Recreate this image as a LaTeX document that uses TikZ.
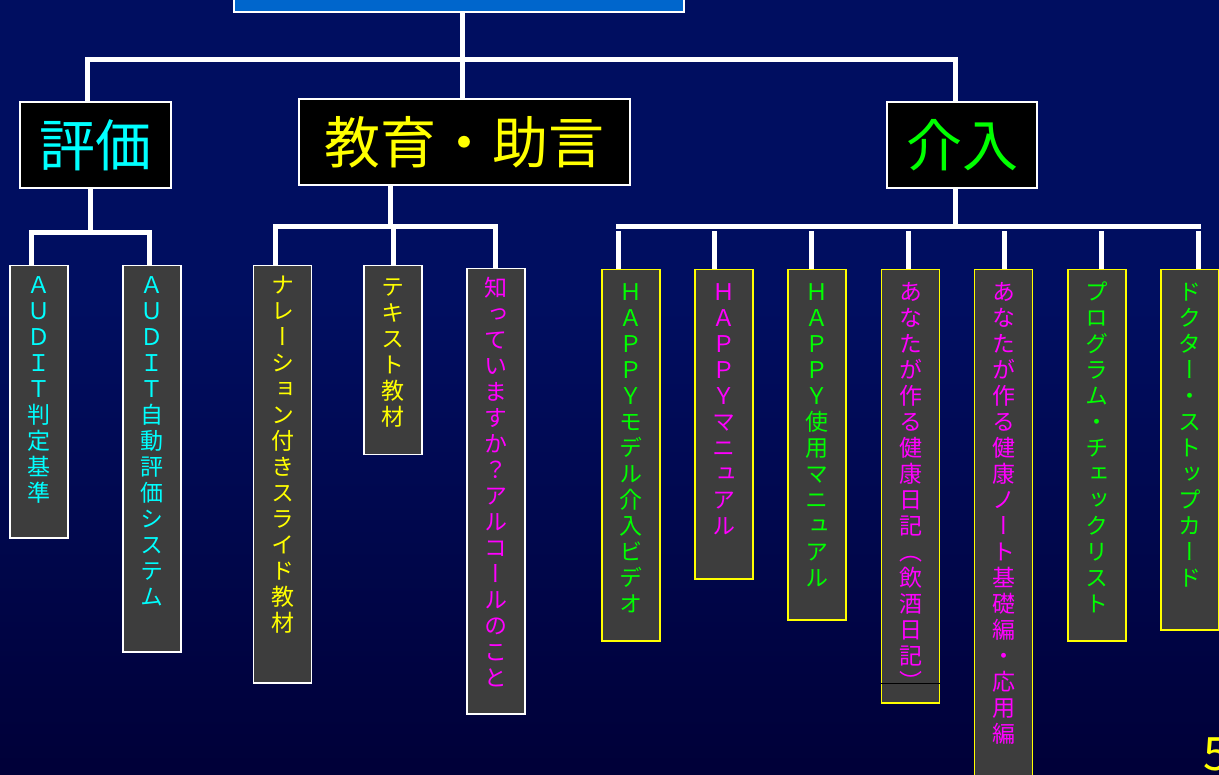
\documentclass[tikz,border=0pt]{standalone}
\usepackage{fontspec}
\newfontfamily\jp{Noto Sans CJK JP}
\newfontfamily\jpv[RawFeature=+vert]{Noto Sans CJK JP}
\definecolor{bgtop}{RGB}{0,14,96}
\definecolor{bgbot}{RGB}{0,0,56}
\definecolor{boxgray}{RGB}{61,61,61}
\definecolor{topblue}{RGB}{0,102,204}
\definecolor{lgreen}{RGB}{0,255,0}
\definecolor{lcyan}{RGB}{0,255,255}
\definecolor{lmagenta}{RGB}{255,0,255}
\definecolor{lyellow}{RGB}{255,255,0}
% one character per line, for the upright columns
\newcommand\tatechar[1]{\hbox to 24pt{\hss\vrule height 20pt depth 3pt width 0pt #1\hss}}
\def\tateloop#1{\ifx#1\relax\else\tatechar{#1}\expandafter\tateloop\fi}
\newcommand\tate[1]{\vbox{\jpv\fontsize{23}{26}\selectfont\baselineskip=26pt\lineskiplimit=-30pt\edef\tatetmp{#1}\expandafter\tateloop\tatetmp\relax}}
\begin{document}
\begin{tikzpicture}[x=1pt,y=-1pt,line join=miter,
  tree/.style={white,line width=5},
  tbox/.style={draw=white,fill=black,line width=1.5,minimum height=86,inner sep=0,font=\jp\fontsize{56}{60}\selectfont},
  wbox/.style={draw=white,fill=boxgray,line width=1.5,minimum width=58,inner sep=0},
  ybox/.style={draw=lyellow,fill=boxgray,line width=1.5,minimum width=58,inner sep=0},
  col/.style={anchor=north,inner sep=0}]
\useasboundingbox (0,0) rectangle (1219,775);
\clip (0,0) rectangle (1219,775);
\fill[bgtop] (0,0) rectangle (1219,300);
\shade[top color=bgtop,bottom color=bgbot] (0,299) rectangle (1219,775);
\coordinate (topbar) at (0,59.5);
\coordinate (lbar) at (0,232.5);
\coordinate (mbar) at (0,226.5);
\coordinate (rbar) at (0,226.5);
\coordinate (rtick) at (0,231);
% top level
\node[draw=white,fill=topblue,line width=1.5,minimum width=450,minimum height=40,inner sep=0] (title) at (459,-8) {};
\node[tbox,minimum width=151,text=lcyan] (hyoka) at (95.5,145) {評価};
\node[tbox,minimum width=331,text=lyellow] (kyoiku) at (464.5,142) {教育・助言};
\node[tbox,minimum width=150,text=lgreen] (kainyu) at (962,145) {介入};
\draw[tree] ([xshift=3]title.south) -- ([xshift=3]title.south |- kyoiku.north);
\draw[tree] ([xshift=-8]hyoka.north) -- ([xshift=-8]hyoka.north |- topbar) -- ([xshift=-7]kainyu.north |- topbar) -- ([xshift=-7]kainyu.north);
% evaluation
\node[wbox,minimum height=272,anchor=north] (auA) at (39,265) {};
\node[wbox,minimum height=386,anchor=north] (auB) at (152,265) {};
\node[col,text=lcyan] (auA-t) at ([yshift=-8.5]auA.north) {\tate{ＡＵＤＩＴ判定基準}};
\node[col,text=lcyan] (auB-t) at ([yshift=-8.5]auB.north) {\tate{ＡＵＤＩＴ自動評価システム}};
\draw[tree] ([xshift=-5.5]hyoka.south) -- ([xshift=-5.5]hyoka.south |- lbar);
\draw[tree] ([xshift=-8]auA.north) -- ([xshift=-8]auA.north |- lbar) -- ([xshift=-3]auB.north |- lbar) -- ([xshift=-3]auB.north);
% education
\node[wbox,minimum height=417,anchor=north] (narr) at (282.5,265) {};
\node[wbox,minimum height=189,anchor=north] (text) at (393,265) {};
\node[wbox,minimum height=445,anchor=north] (shitte) at (496,268) {};
\node[col,text=lyellow] (narr-t) at ([yshift=-8.5]narr.north) {\tate{ナレーション付きスライド教材}};
\node[col,text=lyellow] (text-t) at ([yshift=-10.5]text.north) {\tate{テキスト教材}};
\node[col,text=lmagenta] (shitte-t) at ([yshift=-8.5]shitte.north) {\tate{知っていますか？アルコールのこと}};
\draw[tree] ([xshift=-74.5]kyoiku.south) -- ([xshift=-74.5]kyoiku.south |- mbar);
\draw[tree] ([xshift=-7.5]narr.north) -- ([xshift=-7.5]narr.north |- mbar) -- ([xshift=-1]shitte.north |- mbar) -- ([xshift=-1]shitte.north);
\draw[tree] (text.north) -- (text.north |- mbar);
% intervention
\draw[tree] ([xshift=-7]kainyu.south) -- ([xshift=-7]kainyu.south |- rbar);
\foreach \n/\x/\b/\dx/\c/\t in {hA/631/640/-13/lgreen/ＨＡＰＰＹモデル介入ビデオ,
    hB/724/578/-10/lmagenta/ＨＡＰＰＹマニュアル,
    hC/817/619/-6/lgreen/ＨＡＰＰＹ使用マニュアル,
    nD/910.5/702/-2.5/lmagenta/あなたが作る健康日記（飲酒日記）,
    nE/1003.5/778/0.5/lmagenta/あなたが作る健康ノート基礎編・応用編,
    pF/1097/640/4/lgreen/プログラム・チェックリスト,
    dG/1190/629/8/lgreen/ドクター・ストップカード}{
  \node[ybox,minimum height={\b-269},anchor=north] (\n) at (\x,269) {};
  \node[col,text=\c] (\n-t) at ([yshift=-11.5]\n.north) {\tate{\t}};
  \draw[tree] ([xshift=\dx]\n.north) -- ([xshift=\dx]\n.north |- rtick);
}
\draw[tree,line cap=rect] ([xshift=-13]hA.north |- rbar) -- ([xshift=8]dG.north |- rbar);
\draw[black,line width=1] ([yshift=20]nD.south west) -- ([yshift=20]nD.south east);
\node[anchor=north west,inner sep=0,text=lyellow,font=\jp\fontsize{46}{50}\selectfont] (page) at (1203,738) {5};
\end{tikzpicture}
\end{document}
